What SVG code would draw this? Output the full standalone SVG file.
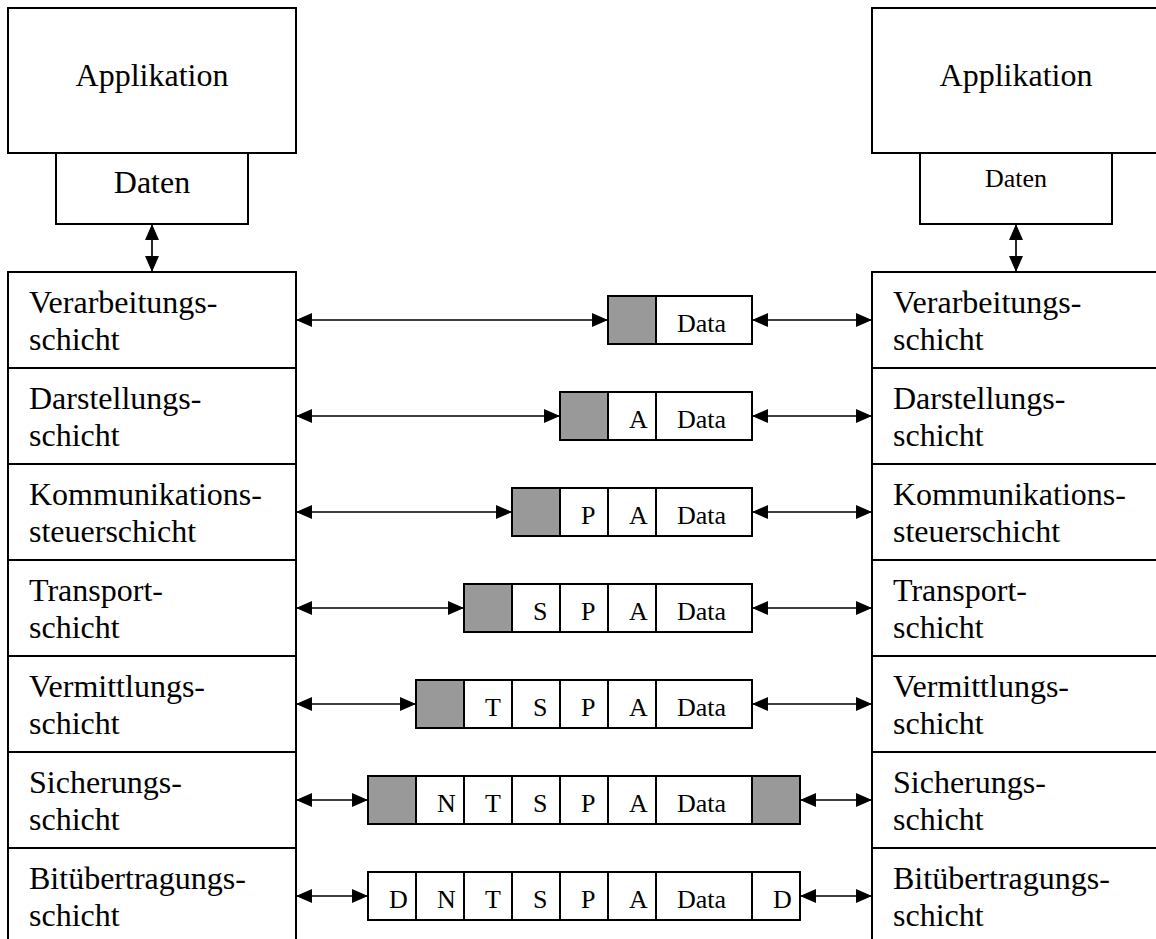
<svg xmlns="http://www.w3.org/2000/svg" width="1156" height="939" viewBox="0 0 1156 939">
<style>
.box{fill:#fff;stroke:#000;stroke-width:2}
.g{fill:#999;stroke:#000;stroke-width:2}
.c{fill:#fff;stroke:#000;stroke-width:2}
.t{font-family:"Liberation Serif","Times New Roman",serif;font-size:32px;fill:#000}
.tc{font-family:"Liberation Serif","Times New Roman",serif;font-size:32px;fill:#000;text-anchor:middle}
.p{font-family:"Liberation Serif","Times New Roman",serif;font-size:26px;fill:#000}
.ln{stroke:#000;stroke-width:1.7;fill:none;marker-start:url(#arr);marker-end:url(#arr)}
</style>
<defs>
<marker id="arr" viewBox="0 0 16 14" refX="16" refY="7" markerWidth="16" markerHeight="14" markerUnits="userSpaceOnUse" orient="auto-start-reverse">
<path d="M0,0 L16,7 L0,14 z" fill="#000"/>
</marker>
</defs>
<rect width="1156" height="939" fill="#fff"/>

<g id="app-left">
<rect class="box" x="8" y="8" width="288" height="145"/>
<text class="tc" x="152" y="86">Applikation</text>
</g>
<g id="daten-left">
<rect class="box" x="56" y="153" width="192" height="71"/>
<text class="tc" x="152" y="193">Daten</text>
</g>
<g id="app-right">
<rect class="box" x="872" y="8" width="300" height="145"/>
<text class="tc" x="1016" y="86">Applikation</text>
</g>
<g id="daten-right">
<rect class="box" x="920" y="153" width="192" height="71"/>
<text class="tc" x="1016" y="187" style="font-size:26px">Daten</text>
</g>

<g id="stack-left">
<rect class="box" x="8" y="272" width="288" height="96"/>
<text class="t" x="29" y="313">Verarbeitungs-</text><text class="t" x="29" y="350">schicht</text>
<rect class="box" x="8" y="368" width="288" height="96"/>
<text class="t" x="29" y="409">Darstellungs-</text><text class="t" x="29" y="446">schicht</text>
<rect class="box" x="8" y="464" width="288" height="96"/>
<text class="t" x="29" y="505">Kommunikations-</text><text class="t" x="29" y="542">steuerschicht</text>
<rect class="box" x="8" y="560" width="288" height="96"/>
<text class="t" x="29" y="601">Transport-</text><text class="t" x="29" y="638">schicht</text>
<rect class="box" x="8" y="656" width="288" height="96"/>
<text class="t" x="29" y="697">Vermittlungs-</text><text class="t" x="29" y="734">schicht</text>
<rect class="box" x="8" y="752" width="288" height="96"/>
<text class="t" x="29" y="793">Sicherungs-</text><text class="t" x="29" y="830">schicht</text>
<rect class="box" x="8" y="848" width="288" height="120"/>
<text class="t" x="29" y="889">Bitübertragungs-</text><text class="t" x="29" y="926">schicht</text>
</g>

<g id="stack-right">
<rect class="box" x="872" y="272" width="300" height="96"/>
<text class="t" x="893" y="313">Verarbeitungs-</text><text class="t" x="893" y="350">schicht</text>
<rect class="box" x="872" y="368" width="300" height="96"/>
<text class="t" x="893" y="409">Darstellungs-</text><text class="t" x="893" y="446">schicht</text>
<rect class="box" x="872" y="464" width="300" height="96"/>
<text class="t" x="893" y="505">Kommunikations-</text><text class="t" x="893" y="542">steuerschicht</text>
<rect class="box" x="872" y="560" width="300" height="96"/>
<text class="t" x="893" y="601">Transport-</text><text class="t" x="893" y="638">schicht</text>
<rect class="box" x="872" y="656" width="300" height="96"/>
<text class="t" x="893" y="697">Vermittlungs-</text><text class="t" x="893" y="734">schicht</text>
<rect class="box" x="872" y="752" width="300" height="96"/>
<text class="t" x="893" y="793">Sicherungs-</text><text class="t" x="893" y="830">schicht</text>
<rect class="box" x="872" y="848" width="300" height="120"/>
<text class="t" x="893" y="889">Bitübertragungs-</text><text class="t" x="893" y="926">schicht</text>
</g>

<g id="packet-1">
<rect class="g" x="608" y="296" width="48" height="48"/>
<rect class="c" x="656" y="296" width="96" height="48"/><text class="p" x="677" y="332">Data</text>
</g>
<g id="packet-2">
<rect class="g" x="560" y="392" width="48" height="48"/>
<rect class="c" x="608" y="392" width="48" height="48"/><text class="p" x="629" y="428">A</text>
<rect class="c" x="656" y="392" width="96" height="48"/><text class="p" x="677" y="428">Data</text>
</g>
<g id="packet-3">
<rect class="g" x="512" y="488" width="48" height="48"/>
<rect class="c" x="560" y="488" width="48" height="48"/><text class="p" x="581" y="524">P</text>
<rect class="c" x="608" y="488" width="48" height="48"/><text class="p" x="629" y="524">A</text>
<rect class="c" x="656" y="488" width="96" height="48"/><text class="p" x="677" y="524">Data</text>
</g>
<g id="packet-4">
<rect class="g" x="464" y="584" width="48" height="48"/>
<rect class="c" x="512" y="584" width="48" height="48"/><text class="p" x="533" y="620">S</text>
<rect class="c" x="560" y="584" width="48" height="48"/><text class="p" x="581" y="620">P</text>
<rect class="c" x="608" y="584" width="48" height="48"/><text class="p" x="629" y="620">A</text>
<rect class="c" x="656" y="584" width="96" height="48"/><text class="p" x="677" y="620">Data</text>
</g>
<g id="packet-5">
<rect class="g" x="416" y="680" width="48" height="48"/>
<rect class="c" x="464" y="680" width="48" height="48"/><text class="p" x="485" y="716">T</text>
<rect class="c" x="512" y="680" width="48" height="48"/><text class="p" x="533" y="716">S</text>
<rect class="c" x="560" y="680" width="48" height="48"/><text class="p" x="581" y="716">P</text>
<rect class="c" x="608" y="680" width="48" height="48"/><text class="p" x="629" y="716">A</text>
<rect class="c" x="656" y="680" width="96" height="48"/><text class="p" x="677" y="716">Data</text>
</g>
<g id="packet-6">
<rect class="g" x="368" y="776" width="48" height="48"/>
<rect class="c" x="416" y="776" width="48" height="48"/><text class="p" x="437" y="812">N</text>
<rect class="c" x="464" y="776" width="48" height="48"/><text class="p" x="485" y="812">T</text>
<rect class="c" x="512" y="776" width="48" height="48"/><text class="p" x="533" y="812">S</text>
<rect class="c" x="560" y="776" width="48" height="48"/><text class="p" x="581" y="812">P</text>
<rect class="c" x="608" y="776" width="48" height="48"/><text class="p" x="629" y="812">A</text>
<rect class="c" x="656" y="776" width="96" height="48"/><text class="p" x="677" y="812">Data</text>
<rect class="g" x="752" y="776" width="48" height="48"/>
</g>
<g id="packet-7">
<rect class="c" x="368" y="872" width="48" height="48"/><text class="p" x="389" y="908">D</text>
<rect class="c" x="416" y="872" width="48" height="48"/><text class="p" x="437" y="908">N</text>
<rect class="c" x="464" y="872" width="48" height="48"/><text class="p" x="485" y="908">T</text>
<rect class="c" x="512" y="872" width="48" height="48"/><text class="p" x="533" y="908">S</text>
<rect class="c" x="560" y="872" width="48" height="48"/><text class="p" x="581" y="908">P</text>
<rect class="c" x="608" y="872" width="48" height="48"/><text class="p" x="629" y="908">A</text>
<rect class="c" x="656" y="872" width="96" height="48"/><text class="p" x="677" y="908">Data</text>
<rect class="c" x="752" y="872" width="48" height="48"/><text class="p" x="773" y="908">D</text>
</g>

<g id="connectors">
<line class="ln" x1="152" y1="224" x2="152" y2="272"/>
<line class="ln" x1="1016" y1="224" x2="1016" y2="272"/>
<line class="ln" x1="296" y1="320" x2="608" y2="320"/>
<line class="ln" x1="752" y1="320" x2="872" y2="320"/>
<line class="ln" x1="296" y1="416" x2="560" y2="416"/>
<line class="ln" x1="752" y1="416" x2="872" y2="416"/>
<line class="ln" x1="296" y1="512" x2="512" y2="512"/>
<line class="ln" x1="752" y1="512" x2="872" y2="512"/>
<line class="ln" x1="296" y1="608" x2="464" y2="608"/>
<line class="ln" x1="752" y1="608" x2="872" y2="608"/>
<line class="ln" x1="296" y1="704" x2="416" y2="704"/>
<line class="ln" x1="752" y1="704" x2="872" y2="704"/>
<line class="ln" x1="296" y1="800" x2="368" y2="800"/>
<line class="ln" x1="800" y1="800" x2="872" y2="800"/>
<line class="ln" x1="296" y1="896" x2="368" y2="896"/>
<line class="ln" x1="800" y1="896" x2="872" y2="896"/>
</g>
</svg>
